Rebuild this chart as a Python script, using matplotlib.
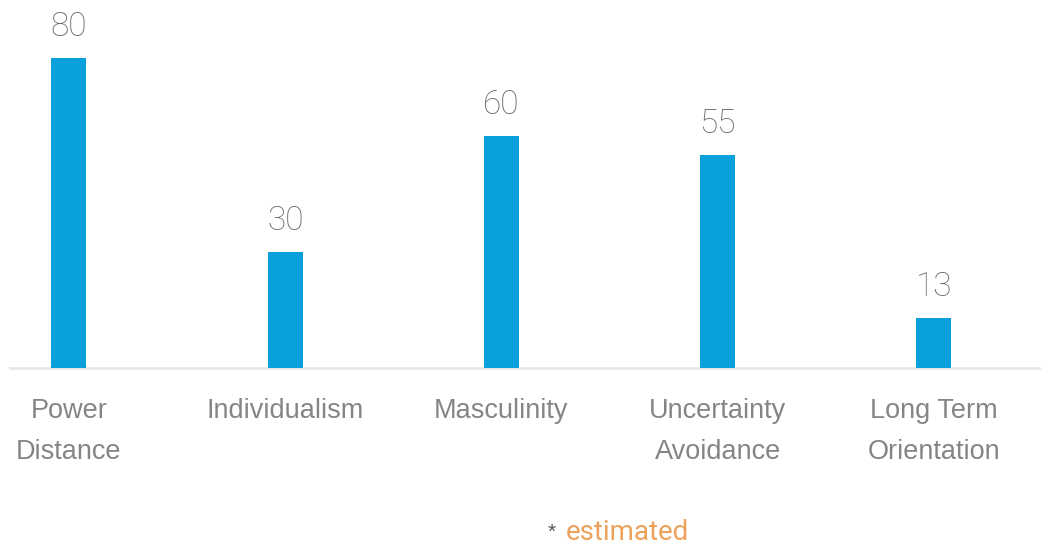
import matplotlib
matplotlib.use("Agg")
import matplotlib.pyplot as plt

categories = ["Power\nDistance", "Individualism", "Masculinity",
              "Uncertainty\nAvoidance", "Long Term\nOrientation"]
scores = [80, 30, 60, 55, 13]

plt.rcParams['font.family'] = ['Liberation Sans', 'DejaVu Sans']

fig = plt.figure(figsize=(10.41, 5.47), dpi=100)
ax = fig.add_axes([0, 0, 1, 1])
ax.set_xlim(-0.319, 4.495)
ax.set_ylim(-46.2, 94.97)
ax.axis("off")

x = list(range(len(scores)))
ax.axhline(0, xmin=0.0095, xmax=1, color="#e8e8e8", lw=2, zorder=1)
ax.bar(x, scores, width=0.162, color="#09a0dc", zorder=2)

for xi, v, cat in zip(x, scores, categories):
    ax.text(xi, v + 8.0, str(v), ha="center", va="center", fontsize=24,
            color="#666666", family="Roboto", fontweight="light")
    ax.text(xi, -7.8, cat, ha="center", va="top", fontsize=19.5,
            color="#858585", linespacing=1.75)

ax.text(2.25, -42.3, "*", ha="right", va="center", fontsize=15, color="#555555")
ax.text(2.295, -42.5, "estimated", ha="left", va="center", fontsize=20,
        color="#eda25c", family="Roboto")

fig.savefig("out.png", dpi=100)
